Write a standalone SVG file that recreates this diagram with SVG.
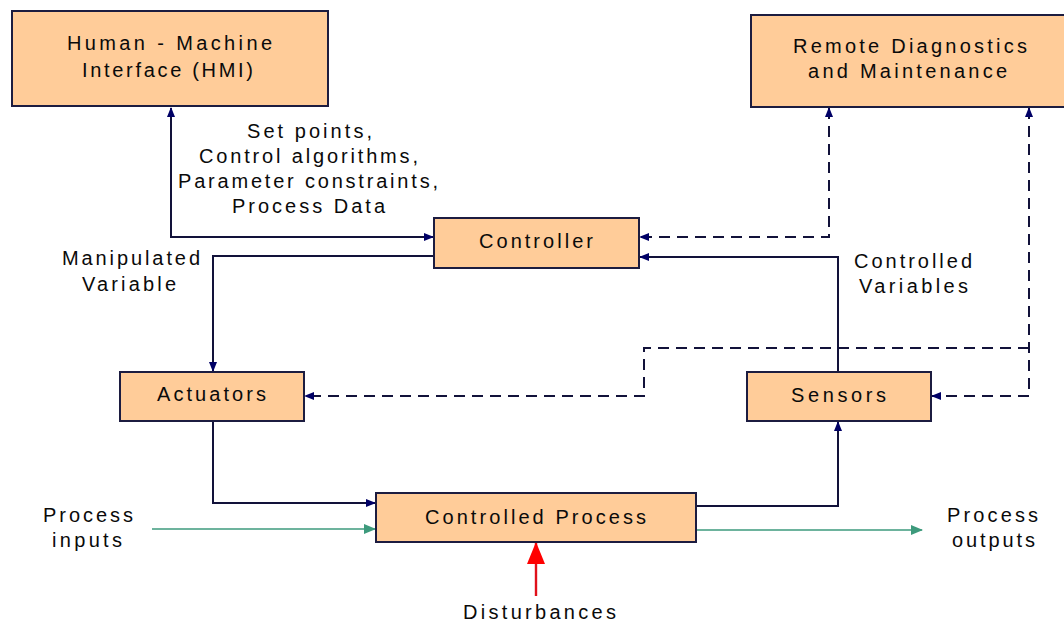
<svg xmlns="http://www.w3.org/2000/svg" width="1064" height="622" viewBox="0 0 1064 622">
  <style>
    .box { fill: #FFCC99; stroke: #1c1c40; stroke-width: 2; }
    .lbl { font-family: "Liberation Sans", Arial, sans-serif; font-size: 20px; fill: #0a0a0a; }
    .wire { fill: none; stroke: #12123a; stroke-width: 2; }
    .dash { fill: none; stroke: #12123a; stroke-width: 2; stroke-dasharray: 11 7; }
    .flow { fill: none; stroke: #3d9a7c; stroke-width: 1.6; }
    .dist { fill: none; stroke: #e0101a; stroke-width: 2.4; }
  </style>
  <defs>
    <marker id="ah" viewBox="0 0 10 8" refX="9" refY="4" markerWidth="10" markerHeight="8" markerUnits="userSpaceOnUse" orient="auto-start-reverse">
      <path d="M0,0 L10,4 L0,8 z" fill="#000066"/>
    </marker>
    <marker id="ahg" viewBox="0 0 12 10" refX="11" refY="5" markerWidth="12" markerHeight="10" markerUnits="userSpaceOnUse" orient="auto">
      <path d="M0,0 L12,5 L0,10 z" fill="#3d9a7c"/>
    </marker>
    <marker id="ahr" viewBox="0 0 22 18" refX="21" refY="9" markerWidth="22" markerHeight="18" markerUnits="userSpaceOnUse" orient="auto">
      <path d="M0,0 L22,9 L0,18 z" fill="#ff0000"/>
    </marker>
  </defs>

  <rect width="1064" height="622" fill="#ffffff"/>

  <!-- connectors -->
  <g id="connectors">
    <path class="wire" d="M171,108 V237 H433" marker-start="url(#ah)" marker-end="url(#ah)"/>
    <path class="wire" d="M434,256 H213 V371" marker-end="url(#ah)"/>
    <path class="wire" d="M213,421 V503 H375" marker-end="url(#ah)"/>
    <path class="wire" d="M696,506 H838 V422" marker-end="url(#ah)"/>
    <path class="wire" d="M838,372 V257 H640" marker-end="url(#ah)"/>
    <path class="dash" d="M829,108 V237 H640" marker-start="url(#ah)" marker-end="url(#ah)"/>
    <path class="dash" d="M1029,108 V396 H932" marker-start="url(#ah)" marker-end="url(#ah)"/>
    <path class="dash" d="M1029,348 H644 V396 H305" marker-end="url(#ah)"/>
    <path class="flow" d="M152,529 H375" marker-end="url(#ahg)"/>
    <path class="flow" d="M696,530 H922" marker-end="url(#ahg)"/>
    <path class="dist" d="M536,596 V543" marker-end="url(#ahr)"/>
  </g>

  <g id="hmi">
    <rect class="box" x="12" y="11" width="316" height="95"/>
    <text class="lbl" x="67" y="50" textLength="205" lengthAdjust="spacing">Human - Machine</text>
    <text class="lbl" x="82" y="77" textLength="171" lengthAdjust="spacing">Interface (HMI)</text>
  </g>

  <g id="remote">
    <rect class="box" x="751" y="15" width="330" height="92"/>
    <text class="lbl" x="793" y="53" textLength="234" lengthAdjust="spacing">Remote Diagnostics</text>
    <text class="lbl" x="808" y="78" textLength="199" lengthAdjust="spacing">and Maintenance</text>
  </g>

  <g id="controller">
    <rect class="box" x="434" y="218" width="205" height="50"/>
    <text class="lbl" x="479" y="248" textLength="114" lengthAdjust="spacing">Controller</text>
  </g>

  <g id="actuators">
    <rect class="box" x="120" y="372" width="184" height="49"/>
    <text class="lbl" x="157" y="401" textLength="109" lengthAdjust="spacing">Actuators</text>
  </g>

  <g id="sensors">
    <rect class="box" x="747" y="372" width="184" height="49"/>
    <text class="lbl" x="791" y="402" textLength="95" lengthAdjust="spacing">Sensors</text>
  </g>

  <g id="process">
    <rect class="box" x="376" y="493" width="320" height="49"/>
    <text class="lbl" x="425" y="524" textLength="221" lengthAdjust="spacing">Controlled Process</text>
  </g>

  <!-- edge and free labels -->
  <g id="labels">
    <text class="lbl" x="247" y="138" textLength="125" lengthAdjust="spacing">Set points,</text>
    <text class="lbl" x="199" y="163" textLength="219" lengthAdjust="spacing">Control algorithms,</text>
    <text class="lbl" x="178" y="188" textLength="260" lengthAdjust="spacing">Parameter constraints,</text>
    <text class="lbl" x="232" y="213" textLength="153" lengthAdjust="spacing">Process Data</text>
    <text class="lbl" x="62" y="265" textLength="138" lengthAdjust="spacing">Manipulated</text>
    <text class="lbl" x="82" y="291" textLength="94" lengthAdjust="spacing">Variable</text>
    <text class="lbl" x="854" y="268" textLength="118" lengthAdjust="spacing">Controlled</text>
    <text class="lbl" x="859" y="293" textLength="109" lengthAdjust="spacing">Variables</text>
    <text class="lbl" x="43" y="522" textLength="90" lengthAdjust="spacing">Process</text>
    <text class="lbl" x="52" y="547" textLength="70" lengthAdjust="spacing">inputs</text>
    <text class="lbl" x="947" y="522" textLength="91" lengthAdjust="spacing">Process</text>
    <text class="lbl" x="952" y="547" textLength="83" lengthAdjust="spacing">outputs</text>
    <text class="lbl" x="463" y="619" textLength="153" lengthAdjust="spacing">Disturbances</text>
  </g>
</svg>
